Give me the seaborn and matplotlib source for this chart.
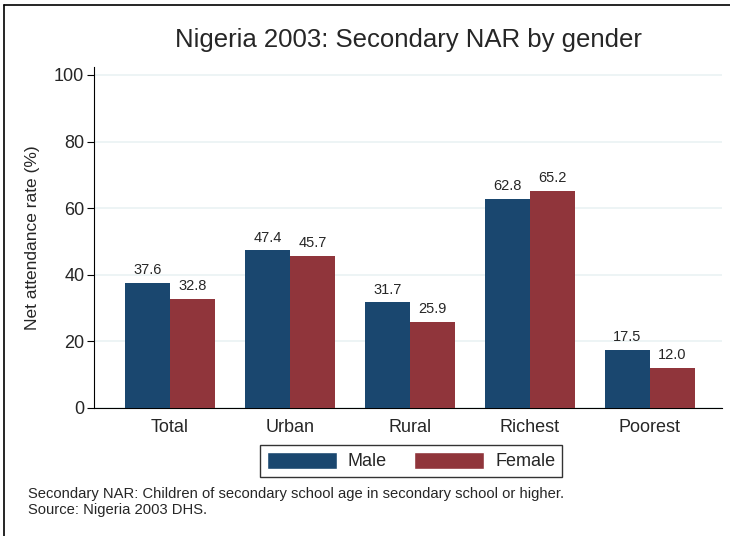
import numpy as np
import pandas as pd
import matplotlib.pyplot as plt
import seaborn as sns
from matplotlib.lines import Line2D

# Datos
grupos = ['Total', 'Urban', 'Rural', 'Richest', 'Poorest']
hombres = [37.6, 47.4, 31.7, 62.8, 17.5]
mujeres = [32.8, 45.7, 25.9, 65.2, 12.0]
generos = ['Male', 'Female']

df = pd.DataFrame({
    'grupo': grupos * 2,
    'genero': [generos[0]] * len(grupos) + [generos[1]] * len(grupos),
    'nar': hombres + mujeres,
})

# Colores tipo Stata
paleta = ['#1a476f', '#90353b']

sns.set_style('white')
plt.rcParams['font.family'] = ['Liberation Sans', 'DejaVu Sans']

fig = plt.figure(figsize=(7.3, 5.36), dpi=100)
ax = fig.add_axes([94 / 730, 1 - 408 / 536, (722 - 94) / 730, (408 - 67) / 536])

sns.barplot(data=df, x='grupo', y='nar', hue='genero', palette=paleta,
            width=0.75, gap=0, saturation=1, linewidth=0, ax=ax, zorder=3)

for c in ax.containers:
    ax.bar_label(c, fmt='%.1f', padding=4, fontsize=10.5)

# Ejes
ax.set_xlim(-0.633, 4.6)
ax.set_ylim(0, 102.4)
ax.set_yticks([0, 20, 40, 60, 80, 100])
ax.grid(axis='y', color='#eaf2f3', linewidth=1.2, zorder=0)
ax.tick_params(axis='y', length=5, width=0.8, color='black', labelsize=13, pad=2, left=True)
ax.tick_params(axis='x', length=0, labelsize=13, pad=8)
ax.set_xlabel('')
ax.set_ylabel('Net attendance rate (%)', fontsize=12.5, labelpad=10)
sns.despine(ax=ax, top=True, right=True)
for s in ['left', 'bottom']:
    ax.spines[s].set_color('black')
    ax.spines[s].set_linewidth(0.8)

# Titulo
fig.text(408 / 730, 1 - 40 / 536, 'Nigeria 2003: Secondary NAR by gender',
         ha='center', va='center', fontsize=18.5)

# Leyenda
ax.get_legend().remove()
handles = [plt.Rectangle((0, 0), 1, 1, facecolor=p) for p in paleta]
leg = fig.legend(handles, generos, loc='center', ncol=2,
                 bbox_to_anchor=(411 / 730, 1 - 461 / 536),
                 fontsize=13, frameon=True, fancybox=False, edgecolor='black',
                 handlelength=3.9, handleheight=1.1, columnspacing=1.5,
                 handletextpad=0.6, borderpad=0.35)
leg.get_frame().set_linewidth(1)

# Notas
fig.text(28 / 730, 1 - 494 / 536,
         'Secondary NAR: Children of secondary school age in secondary school or higher.',
         ha='left', va='center', fontsize=10.65)
fig.text(28 / 730, 1 - 510 / 536, 'Source: Nigeria 2003 DHS.',
         ha='left', va='center', fontsize=10.65)

# Marco de la figura
fig.add_artist(Line2D([4 / 730, 1], [1 - 5 / 536, 1 - 5 / 536], color='black', linewidth=1.2))
fig.add_artist(Line2D([4 / 730, 4 / 730], [0, 1 - 5 / 536], color='black', linewidth=1.2))

fig.savefig('out.png', dpi=100)
